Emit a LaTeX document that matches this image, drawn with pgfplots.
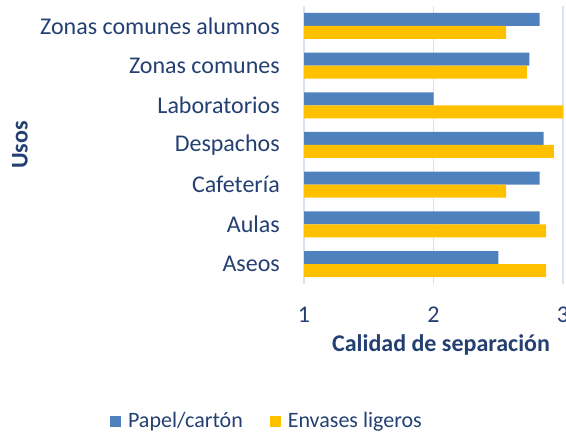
\documentclass[border=0pt]{standalone}
\usepackage{fontspec}
\setmainfont{Carlito}
\usepackage{pgfplots}
\pgfplotsset{compat=1.18}
\definecolor{txt}{RGB}{36,64,115}
\definecolor{cblue}{RGB}{79,129,189}
\definecolor{cyel}{RGB}{255,192,0}
\definecolor{gridc}{RGB}{217,226,240}
\begin{document}
\begin{tikzpicture}[x=1bp,y=1bp]
\useasboundingbox (0,0) rectangle (566,435);
\begin{axis}[
  at={(304bp,151bp)}, anchor=south west,
  scale only axis, width=259bp, height=278bp,
  xmin=1, xmax=3, ymin=-0.5, ymax=6.5,
  xbar=0pt, bar width=13bp,
  xtick={1,2,3},
  ytick={0,1,2,3,4,5,6},
  yticklabels={Aseos,Aulas,Cafetería,Despachos,Laboratorios,Zonas comunes,Zonas comunes alumnos},
  /pgf/number format/assume math mode=true,
  tick label style={font=\fontsize{24bp}{28bp}\selectfont, text=txt},
  xticklabel style={anchor=north, inner sep=0pt, yshift=-23bp},
  yticklabel style={anchor=east, inner sep=0pt, xshift=-24bp},
  major tick length=0pt,
  axis line style={draw=none},
  xmajorgrids, grid style={draw=gridc, line width=1.5bp},
  xlabel={\bfseries Calidad de separación},
  xlabel style={font=\fontsize{24bp}{28bp}\selectfont, text=txt, at={(rel axis cs:0.529,-0.22)}, anchor=center},
  ylabel={\bfseries Usos},
  ylabel style={font=\fontsize{24bp}{28bp}\selectfont, text=txt, at={(rel axis cs:-1.0965,0.5)}, anchor=center},
  legend columns=2,
  legend style={at={(rel axis cs:-0.147,-0.493)}, anchor=center, draw=none, fill=none,
    font=\fontsize{22bp}{26bp}\selectfont, text=txt,
    /tikz/every even column/.append style={column sep=27bp},
    nodes={inner sep=0pt, text=txt}},
  legend image code/.code={\fill[#1] (0bp,-5.5bp) rectangle (11bp,5.5bp);},
  legend cell align=left,
]
\addplot[fill=cblue, draw=none, bar shift=6.5bp] coordinates {(2.50,0) (2.82,1) (2.82,2) (2.85,3) (2.00,4) (2.74,5) (2.82,6)};
\addplot[fill=cyel, draw=none, bar shift=-6.5bp] coordinates {(2.87,0) (2.87,1) (2.56,2) (2.93,3) (3.00,4) (2.72,5) (2.56,6)};
\legend{\hspace{7bp}Papel/cartón, \hspace{7bp}Envases ligeros}
\end{axis}
\end{tikzpicture}
\end{document}
